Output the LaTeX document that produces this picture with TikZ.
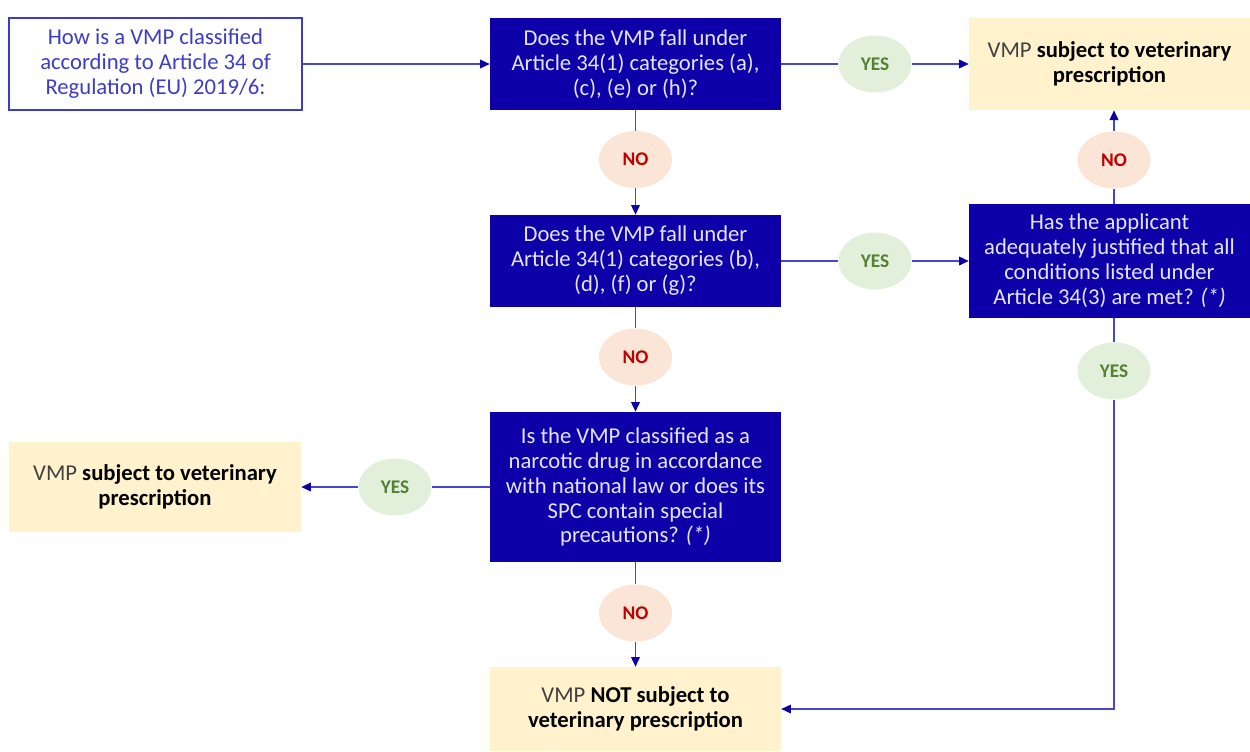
\documentclass[tikz,border=0pt]{standalone}
\usepackage{fontspec}
\setmainfont{Carlito}
\usetikzlibrary{arrows.meta,shapes.geometric}
\definecolor{qblue}{RGB}{14,0,168}
\definecolor{lineblue}{RGB}{70,70,204}
\definecolor{startblue}{RGB}{60,60,200}
\definecolor{resfill}{RGB}{255,242,204}
\definecolor{vmpgray}{RGB}{64,64,64}
\definecolor{yesfill}{RGB}{226,239,218}
\definecolor{yestext}{RGB}{84,130,53}
\definecolor{nofill}{RGB}{251,229,214}
\definecolor{notext}{RGB}{192,0,0}
\definecolor{qtext}{RGB}{228,228,255}

\begin{document}
\begin{tikzpicture}[x=0.02cm,y=-0.02cm,font=\fontsize{12.9}{14.2}\selectfont,
  startbox/.style={draw=startblue,line width=0.7pt,text=startblue,align=center,minimum width=5.86cm,minimum height=1.84cm,inner sep=2pt},
  question/.style={fill=qblue,text=qtext,align=center,minimum width=5.82cm,inner sep=2pt},
  result/.style={fill=resfill,align=center,inner sep=2pt},
  answer/.style={ellipse,minimum width=1.46cm,minimum height=1.14cm,inner sep=0pt,font=\fontsize{11}{12}\selectfont\bfseries},
  yesmark/.style={answer,fill=yesfill,text=yestext},
  nomark/.style={answer,fill=nofill,text=notext},
  link/.style={draw=lineblue,line width=0.7pt},
  flow/.style={link,-{Triangle[length=5.5pt,width=5pt,color=qblue]}}]
\useasboundingbox (0,0) rectangle (1250,751);
\node[startbox] (start) at (155.5,64) {How is a VMP classified\\according to Article 34 of\\Regulation (EU) 2019/6:};
\node[question,minimum height=1.84cm] (q1) at (635.5,64) {Does the VMP fall under\\Article 34(1) categories (a),\\(c), (e) or (h)?};
\node[question,minimum height=1.84cm] (q2) at (635.5,261) {Does the VMP fall under\\Article 34(1) categories (b),\\(d), (f) or (g)?};
\node[question,minimum height=3cm] (q3) at (635.5,487) {Is the VMP classified as a\\narcotic drug in accordance\\with national law or does its\\SPC contain special\\precautions? \textit{(*)}};
\node[question,minimum width=5.62cm,minimum height=2.28cm] (q4) at (1109.5,261) {Has the applicant\\adequately justified that all\\conditions listed under\\Article 34(3) are met? \textit{(*)}};
\node[result,minimum width=5.62cm,minimum height=1.84cm] (res1) at (1109.5,64) {{\color{vmpgray}VMP} \textbf{subject to veterinary}\\\textbf{prescription}};
\node[result,minimum width=5.84cm,minimum height=1.8cm] (res2) at (155,487) {{\color{vmpgray}VMP} \textbf{subject to veterinary}\\\textbf{prescription}};
\node[result,minimum width=5.82cm,minimum height=1.68cm] (res3) at (635.5,709) {{\color{vmpgray}VMP} \textbf{NOT subject to}\\\textbf{veterinary prescription}};
\node[yesmark] (yes1) at (875,64) {YES};
\node[yesmark] (yes2) at (875,261) {YES};
\node[yesmark] (yes3) at (1114,371) {YES};
\node[yesmark] (yes4) at (395,487) {YES};
\node[nomark] (no1) at (635.5,159.5) {NO};
\node[nomark] (no2) at (635.5,357) {NO};
\node[nomark] (no3) at (635.5,613) {NO};
\node[nomark] (no4) at (1114,160) {NO};
\draw[flow] (start) -- (q1);
\draw[link] (q1) -- (yes1);
\draw[flow] (yes1) -- (res1);
\draw[link] (q1) -- (no1);
\draw[flow] (no1) -- (q2);
\draw[link] (q2) -- (yes2);
\draw[flow] (yes2) -- (q4);
\draw[link] (no4 |- q4.north) -- (no4);
\draw[flow] (no4) -- (no4 |- res1.south);
\draw[link] (yes3 |- q4.south) -- (yes3);
\draw[flow] (yes3) |- (res3);
\draw[link] (q2) -- (no2);
\draw[flow] (no2) -- (q3);
\draw[link] (q3) -- (yes4);
\draw[flow] (yes4) -- (res2);
\draw[link] (q3) -- (no3);
\draw[flow] (no3) -- (res3);
\end{tikzpicture}
\end{document}
